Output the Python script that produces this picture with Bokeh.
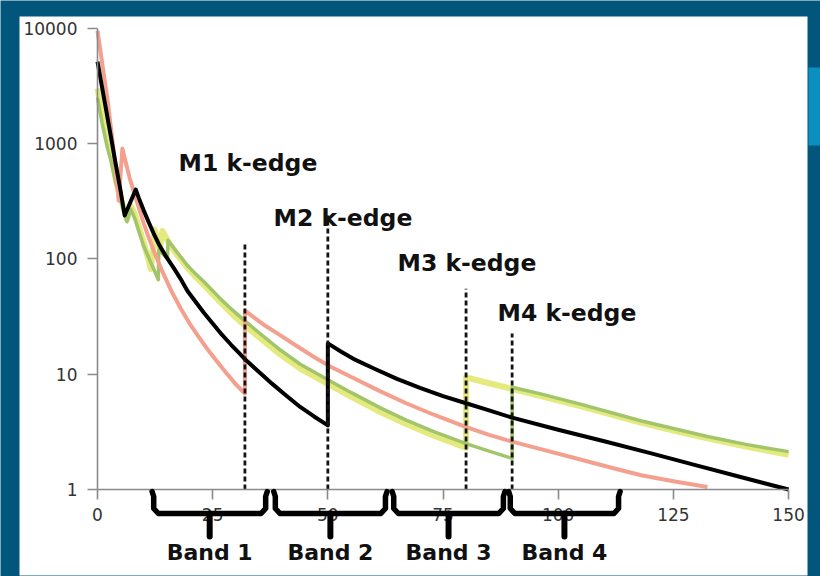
from bokeh.plotting import figure
from bokeh.models import Range1d, FixedTicker, PrintfTickFormatter, BoxAnnotation
from bokeh.core.properties import value
from bokeh.embed import file_html
from bokeh.resources import INLINE

# ---- attenuation curves: photon energy (keV) vs attenuation ----
black_kev = [0, 0.65, 1.5, 2.6, 3.9, 5.0, 5.9, 8.3, 9, 10, 11, 12.2, 13.5, 15, 16.5, 18, 19.5,
             21, 23, 25, 27, 29, 30.5, 32, 35, 38, 41, 44, 47, 50,
             50, 53, 56, 60, 65, 70, 75, 80, 85, 90, 100, 110, 120, 130, 140, 150]
black_att = [5150, 3670, 2370, 1350, 685, 392, 238, 400, 335, 265, 213, 166, 130, 103, 84, 67.5, 53,
             44, 34.5, 27.5, 22, 18, 15.6, 13.5, 10.5, 8.2, 6.5, 5.2, 4.3, 3.6,
             18.5, 15.6, 13.3, 11.2, 9.1, 7.6, 6.45, 5.6, 4.85, 4.2, 3.3, 2.62, 2.07, 1.62, 1.27, 1.0]

salmon_kev = [0, 0.65, 2.2, 3.5, 4.6, 5.4, 6, 7, 8, 9, 10, 11, 12.2, 14, 16, 18, 20, 22, 24,
              26, 28, 30, 32, 32, 34, 36, 39.7, 44, 47, 50.6, 55, 61.4, 67, 73, 79.9, 85, 90,
              96.2, 104.8, 112, 118, 125, 132.4]
salmon_att = [9500, 6300, 2360, 870, 320, 906, 720, 500, 370, 275, 205, 158, 118, 79, 53, 37.5,
              27.5, 21, 16.2, 12.8, 10.2, 8.2, 6.8, 35.7, 31, 27, 21.7, 16.8, 14.1, 11.6, 9.5,
              7.1, 5.6, 4.45, 3.5, 2.98, 2.6, 2.24, 1.82, 1.53, 1.33, 1.18, 1.05]

yellow_kev = [0, 1, 2.2, 2.8, 4, 5.6, 6.4, 7.2, 8, 10, 11.6, 12.4, 13.5, 14.1, 15.5, 17, 19.5,
              21, 23, 25, 26.7, 28.5, 30, 32, 35, 39.7, 44, 50.6, 55, 61.4, 67, 73, 80,
              80, 85, 90, 96.2, 104.8, 117.9, 125, 132.4, 141, 150]
yellow_att = [3000, 1800, 1050, 900, 480, 280, 220, 290, 250, 140, 82, 180, 120, 175, 138, 112, 84,
              72, 60, 49.5, 42, 35.5, 31, 26.5, 21, 14.8, 11.2, 8.0, 6.4, 4.7, 3.7, 2.93, 2.3,
              9.4, 8.35, 7.45, 6.45, 5.3, 3.8, 3.25, 2.78, 2.35, 2.0]

green_kev = [0, 1, 2.2, 2.8, 4, 5.6, 6.4, 7.2, 8, 10, 12, 13.2, 13.3, 15.2, 15.3, 17, 19.5, 21,
             23, 25, 26.7, 28.5, 30, 32, 35, 39.7, 44, 50.6, 55, 61.4, 67, 73, 80, 85, 90,
             90, 96.2, 104.8, 117.9, 125, 132.4, 141, 150]
green_att = [2500, 1500, 900, 740, 450, 270, 210, 270, 230, 130, 85, 66, 120, 100, 145, 118, 88, 76,
             64, 53, 45, 38.5, 34, 29, 23, 16.2, 12.2, 8.7, 6.95, 5.1, 4.0, 3.18, 2.5, 2.15, 1.86,
             7.7, 6.75, 5.5, 3.95, 3.38, 2.88, 2.45, 2.13]

# ---- k-edges of the four materials ----
edge_labels = ["M1 k-edge", "M2 k-edge", "M3 k-edge", "M4 k-edge"]
edge_kev = [32, 50, 80, 90]
edge_top = [136, 238, 55, 22.5]

# ---- energy bands ----
band_labels = ["Band 1", "Band 2", "Band 3", "Band 4"]
band_lo = [12.2, 38.6, 64.3, 89.6]
band_hi = [36.5, 62.5, 88.1, 113.1]

x_ticks = [0, 25, 50, 75, 100, 125, 150]
y_ticks = [1, 10, 100, 1000, 10000]

# ---- canvas geometry (pixels) ----
W, H = 820, 576
X0_PX = 97            # screen column of 0 keV
PX_PER_KEV = 4.607
Y1_PX = 489           # screen row of attenuation 1
PX_PER_DECADE = 115.3


def x_at(px):
    return (px - X0_PX) / PX_PER_KEV


def y_at(py):
    return 10 ** ((Y1_PX - py) / PX_PER_DECADE)


p = figure(width=W, height=H, y_axis_type="log",
           x_range=Range1d(x_at(0), x_at(W)), y_range=Range1d(y_at(H), y_at(0)),
           output_backend="svg", toolbar_location=None,
           min_border=0, min_border_left=0, min_border_right=0,
           min_border_top=0, min_border_bottom=0)
p.background_fill_color = "#02557b"
p.border_fill_color = "#02557b"
p.outline_line_color = None
p.grid.visible = False

# white slide panel and side tab
p.add_layout(BoxAnnotation(left=x_at(19), right=x_at(807), top=y_at(16), bottom=y_at(575),
                           fill_color="white", fill_alpha=1, line_color=None, level="underlay"))
p.add_layout(BoxAnnotation(left=x_at(808), right=x_at(W), top=y_at(67), bottom=y_at(145),
                           fill_color="#0a8fbf", fill_alpha=1, line_color=None, level="underlay"))

# axes pinned to the data origin
for ax, loc, bounds, ticks in ((p.xaxis[0], 1, (0, 150), x_ticks),
                               (p.yaxis[0], 0, (1, 10000), y_ticks)):
    ax.fixed_location = loc
    ax.bounds = bounds
    ax.ticker = FixedTicker(ticks=ticks, minor_ticks=[])
    ax.formatter = PrintfTickFormatter(format="%d")
    ax.axis_line_color = "#8a8a8a"
    ax.axis_line_width = 1.6
    ax.major_tick_line_color = "#8a8a8a"
    ax.major_tick_line_width = 1.6
    ax.major_tick_out = 10
    ax.major_tick_in = 0
    ax.minor_tick_line_color = None
    ax.major_label_text_font = "DejaVu Sans"
    ax.major_label_text_font_size = "17px"
    ax.major_label_text_color = "#333333"
p.xaxis[0].major_label_standoff = 8
p.yaxis[0].major_label_standoff = 10

# curves
p.line(yellow_kev, yellow_att, line_color="#e4ea7e", line_width=6, line_join="round")
p.line(green_kev, green_att, line_color="#a2c56c", line_width=3.5, line_join="round")
p.line(salmon_kev, salmon_att, line_color="#f4a08e", line_width=4, line_join="round")
p.line(black_kev, black_att, line_color="black", line_width=4, line_join="round")

# k-edge markers
p.segment(x0=edge_kev, y0=[1] * len(edge_kev), x1=edge_kev, y1=edge_top,
          line_color="#141414", line_width=2.8, line_dash="5 3")

label_font = value("DejaVu Sans")
edge_label_x = [x_at(178), x_at(273), x_at(397), x_at(497)]
edge_label_y = [y_at(162), y_at(217), y_at(262), y_at(312)]
p.text(x=edge_label_x, y=edge_label_y, text=edge_labels, text_font=label_font,
       text_font_size="23.5px", text_font_style="bold", text_color="#111111",
       text_align="left", text_baseline="alphabetic", level="overlay")

# band brackets under the energy axis
br_xs, br_ys = [], []
for lo, hi in zip(band_lo, band_hi):
    br_xs.append([lo - 0.35, lo, lo, lo + 1.0, hi - 1.0, hi, hi, hi + 0.35])
    br_ys.append([y_at(491), y_at(496), y_at(508), y_at(513), y_at(513), y_at(508), y_at(496), y_at(491)])
p.multi_line(br_xs, br_ys, line_color="black", line_width=5.5, line_join="round",
             line_cap="round", level="overlay")
band_mid = [(lo + hi) / 2 for lo, hi in zip(band_lo, band_hi)]
p.segment(x0=band_mid, y0=[y_at(513)] * 4, x1=band_mid, y1=[y_at(536)] * 4,
          line_color="black", line_width=6, line_cap="round", level="overlay")
p.text(x=band_mid, y=[y_at(552)] * 4, text=band_labels, text_font=label_font,
       text_font_size="22px", text_font_style="bold", text_color="#111111",
       text_align="center", text_baseline="alphabetic", level="overlay")

open("out.html", "w").write(file_html(p, INLINE))
